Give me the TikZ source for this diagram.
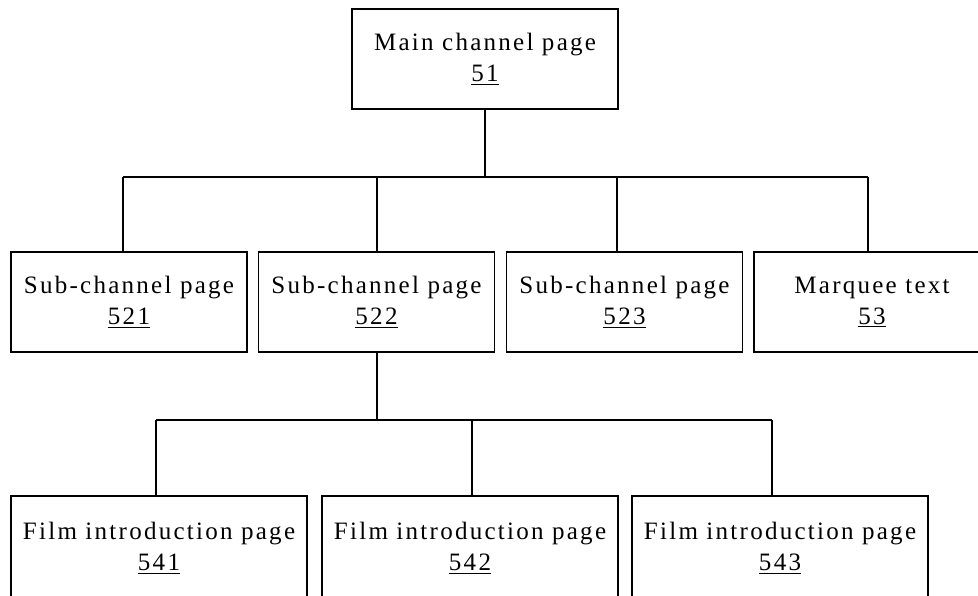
\documentclass[tikz,border=0pt]{standalone}
\usepackage{fontspec}
\setmainfont[LetterSpace=9]{Liberation Serif}
\usepackage{tikz}
\pgfdeclarelayer{edgelayer}
\pgfdeclarelayer{nodelayer}
\pgfsetlayers{edgelayer,nodelayer,main}
\tikzstyle{page}=[rectangle,fill=white,draw=black,line width=1pt,align=center,inner sep=0pt,font=\fontsize{17.8pt}{22pt}\selectfont]
\tikzstyle{toppage}=[style=page,minimum width=6.65cm,minimum height=2.5cm]
\tikzstyle{subpage}=[style=page,minimum width=5.9cm,minimum height=2.5cm]
\tikzstyle{filmpage}=[style=page,minimum width=7.4cm,minimum height=2.6cm]
\tikzstyle{link}=[draw=black,line width=1pt]

\begin{document}
\begin{tikzpicture}
	\useasboundingbox (0, 0) rectangle (24.45, 14.9);
	\begin{pgfonlayer}{nodelayer}
		\node [style=toppage] (51) at (12.125, 13.425) {Main channel page\\\underline{51}};
		\node [style=subpage] (521) at (3.225, 7.35) {Sub-channel page\\\underline{521}};
		\node [style=subpage] (522) at (9.4125, 7.35) {Sub-channel page\\\underline{522}};
		\node [style=subpage] (523) at (15.6125, 7.35) {Sub-channel page\\\underline{523}};
		\node [style=subpage] (53) at (21.8, 7.35) {Marquee text\\\underline{53}};
		\node [style=filmpage] (541) at (3.975, 1.2) {Film introduction page\\\underline{541}};
		\node [style=filmpage] (542) at (11.75, 1.2) {Film introduction page\\\underline{542}};
		\node [style=filmpage] (543) at (19.5, 1.2) {Film introduction page\\\underline{543}};
		\coordinate (0) at (12.125, 10.475);
		\coordinate (1) at (3.075, 10.475);
		\coordinate (2) at (9.425, 10.475);
		\coordinate (3) at (15.425, 10.475);
		\coordinate (4) at (21.7, 10.475);
		\coordinate (5) at (9.425, 4.4);
		\coordinate (6) at (3.9, 4.4);
		\coordinate (7) at (11.8, 4.4);
		\coordinate (8) at (19.3, 4.4);
	\end{pgfonlayer}
	\begin{pgfonlayer}{edgelayer}
		\draw [style=link] (51) to (0);
		\draw [style=link] (1) to (4);
		\draw [style=link] (1) to (1 |- 521.north);
		\draw [style=link] (2) to (2 |- 522.north);
		\draw [style=link] (3) to (3 |- 523.north);
		\draw [style=link] (4) to (4 |- 53.north);
		\draw [style=link] (5 |- 522.south) to (5);
		\draw [style=link] (6) to (8);
		\draw [style=link] (6) to (6 |- 541.north);
		\draw [style=link] (7) to (7 |- 542.north);
		\draw [style=link] (8) to (8 |- 543.north);
	\end{pgfonlayer}
\end{tikzpicture}
\end{document}
